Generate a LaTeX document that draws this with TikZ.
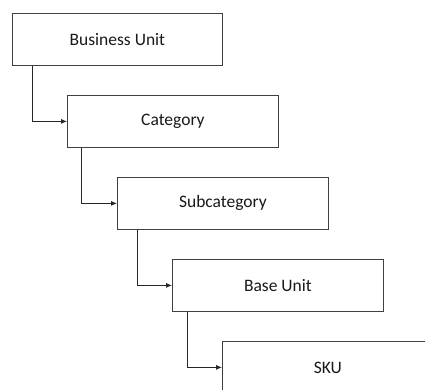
\documentclass[tikz,border=0pt]{standalone}
\usepackage{fontspec}
\setmainfont{Carlito}
\usetikzlibrary{arrows.meta}
\begin{document}
\begin{tikzpicture}[x=1pt,y=-1pt,
  level/.style={draw=black!75, line width=0.8pt, fill=white, anchor=north west,
    minimum width=211pt, minimum height=52pt, inner sep=0pt,
    font=\fontsize{17.5}{20}\selectfont, text=black!90},
  link/.style={draw=black!85, line width=0.8pt, -{Latex[length=6pt,width=5pt]}}]
  \useasboundingbox (0,0) rectangle (425,389);
  \clip (0,0) rectangle (425,389);
  % staircase of levels, each one indented from the last
  \node[level, minimum width=210pt] (bu) at (12,13) {Business Unit};
  \node[level] (cat)  at (67,95)   {Category};
  \node[level] (sub)  at (117,177) {Subcategory};
  \node[level] (base) at (172,259) {Base Unit};
  \node[level] (sku)  at (222,341) {SKU};
  % elbow connectors from each level down to the next
  \draw[link] ([xshift=20pt]bu.south west) |- (cat.west);
  \draw[link] ([xshift=14pt]cat.south west) |- (sub.west);
  \draw[link] ([xshift=20pt]sub.south west) |- (base.west);
  \draw[link] ([xshift=15pt]base.south west) |- (sku.west);
\end{tikzpicture}
\end{document}
